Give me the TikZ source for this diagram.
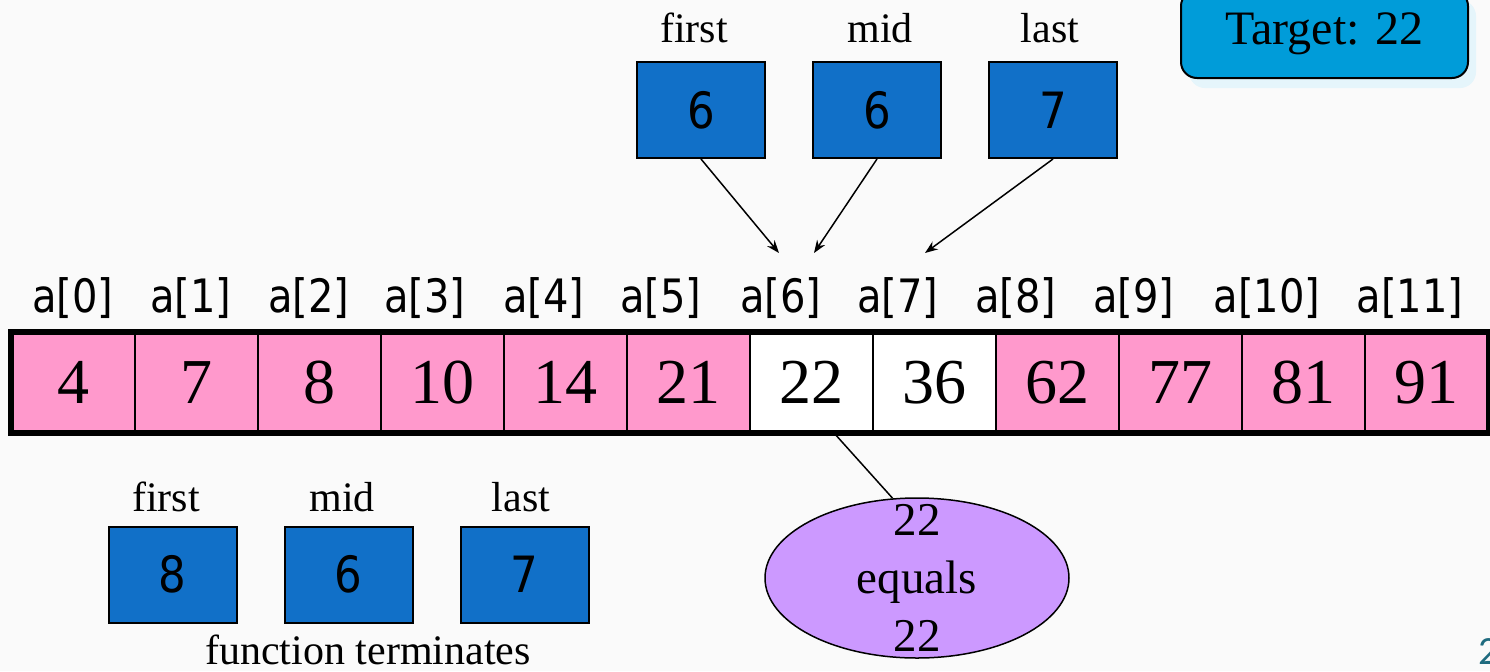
\documentclass[tikz,border=0pt]{standalone}
\usepackage{fontspec}
\setmainfont{Liberation Serif}
\newfontfamily\labelsans[FakeStretch=0.87]{DejaVu Sans}
\newfontfamily\slidesans{Carlito}
\usetikzlibrary{arrows.meta,shapes.geometric,shadows}
\definecolor{cellpink}{HTML}{FF99CC}
\definecolor{ptrblue}{HTML}{1170C8}
\definecolor{targetblue}{HTML}{009CD9}
\definecolor{matchlilac}{HTML}{CC99FF}
\definecolor{slideteal}{HTML}{1F6B7F}
\definecolor{pagebg}{HTML}{FAFAFA}

\tikzset{
  cell/.style={draw, line width=1pt, minimum width=61.5pt, minimum height=49.5pt,
    inner sep=0pt, font=\fontsize{32}{32}\selectfont},
  idx/.style={font=\labelsans\fontsize{23}{23}\selectfont},
  ptrbox/.style={draw, line width=1pt, fill=ptrblue, minimum width=64pt,
    minimum height=48pt, inner sep=0pt, font=\labelsans\fontsize{25}{25}\selectfont},
  ptrname/.style={font=\fontsize{21}{21}\selectfont},
}

\begin{document}
\begin{tikzpicture}[>=Stealth, x=0.5pt, y=-0.5pt]
  \fill[pagebg] (0,0) rectangle (1490,671);
  \useasboundingbox (0,0) rectangle (1490,671);

  % target value
  \node[draw, line width=1pt, fill=targetblue, rounded corners=8pt,
    minimum width=143.5pt, minimum height=44pt,
    drop shadow={fill=targetblue!10, shadow xshift=4pt, shadow yshift=-5pt, opacity=1},
    font=\fontsize{24}{24}\selectfont] (target) at (1324.5,34) {Target: 22};

  % the array
  \foreach \v [count=\i from 0] in {4,7,8,10,14,21,22,36,62,77,81,91} {
    \ifnum\i=6 \def\cellcol{white}\else\ifnum\i=7 \def\cellcol{white}\else\def\cellcol{cellpink}\fi\fi
    \node[cell, fill=\cellcol] (c\i) at (73.5+123*\i,382.5) {\v};
  }
  \draw[line width=3pt] (c0.north west) rectangle (c11.south east);
  % index labels, set as one line of text
  \foreach \x [count=\i from 0] in {73,191,309,425,544,661,781,898,1016,1134,1267,1410}
    \node[idx] (a\i) at (\x,298) {a[\i]};

  % pointers in this step
  \node[ptrname] (firstname) at (694,28) {first};
  \node[ptrname] (midname) at (880,28) {mid};
  \node[ptrname] (lastname) at (1050,28) {last};
  \node[ptrbox] (first) at (701,110) {6};
  \node[ptrbox] (mid) at (877,110) {6};
  \node[ptrbox] (last) at (1053,110) {7};
  \coordinate (tofirst) at (779,253);
  \coordinate (tomid) at (814,253);
  \coordinate (tolast) at (925,253);
  \draw[->, line width=0.75pt] (first.south) -- (tofirst);
  \draw[->, line width=0.75pt] (mid.south) -- (tomid);
  \draw[->, line width=0.75pt] (last.south) -- (tolast);

  % comparison
  \node[ellipse, draw, line width=0.75pt, fill=matchlilac, minimum width=152pt,
    minimum height=80pt, inner sep=0pt] (match) at (917,578) {};
  \node[align=center, inner sep=0pt, font=\fontsize{23.5}{29}\selectfont]
    (matchtext) at (match.center) {22\\equals\\22};
  \draw[line width=0.75pt] ([xshift=-20pt]c6.south east) -- (match.107);

  % pointers after the step
  \node[ptrname] (firstname2) at (166,497) {first};
  \node[ptrname] (midname2) at (342,497) {mid};
  \node[ptrname] (lastname2) at (521,497) {last};
  \node[ptrbox] (first2) at (172.5,574.5) {8};
  \node[ptrbox] (mid2) at (348.5,574.5) {6};
  \node[ptrbox] (last2) at (524.5,574.5) {7};
  \node[ptrname] (done) at (368,650) {function terminates};

  \node[anchor=west, inner sep=0pt, text=slideteal, font=\slidesans\fontsize{20}{20}\selectfont]
    (pageno) at (1478,652) {2};
\end{tikzpicture}
\end{document}
